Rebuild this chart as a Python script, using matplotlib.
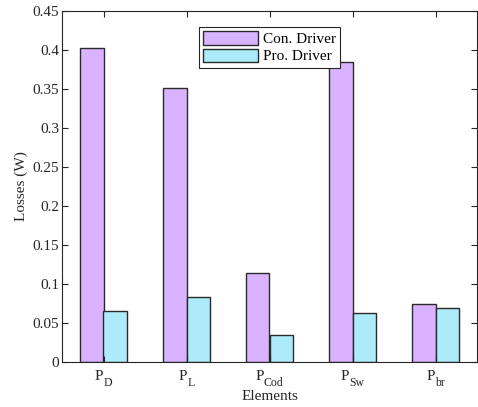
import matplotlib
matplotlib.use("Agg")
import matplotlib.pyplot as plt
import matplotlib.transforms as mtransforms
import numpy as np

cat_main = ["P", "P", "P", "P", "P"]
cat_sub = ["D", "L", "Cod", "Sw", "br"]
con_driver = [0.403, 0.351, 0.114, 0.384, 0.074]
pro_driver = [0.066, 0.083, 0.035, 0.063, 0.069]
yticks = [0, 0.05, 0.1, 0.15, 0.2, 0.25, 0.3, 0.35, 0.4, 0.45]
ytick_labels = ["0", "0.05", "0.1", "0.15", "0.2", "0.25", "0.3", "0.35", "0.4", "0.45"]

plt.rcParams["font.family"] = ["Liberation Serif", "DejaVu Serif"]

fig = plt.figure(figsize=(4.78, 4.07), dpi=100)
ax = fig.add_axes([62/478, 45/407, 415/478, 351/407])

x = np.arange(1, len(cat_sub) + 1)
w = 0.2857
edge = "#2a2a2a"
ax.bar(x - w/2, con_driver, w, color="#D9B3FF", edgecolor=edge, linewidth=1.0, label="Con. Driver")
ax.bar(x + w/2, pro_driver, w, color="#ADEBFA", edgecolor=edge, linewidth=1.0, label="Pro. Driver")

ax.set_xlim(0.5, 5.5)
ax.set_ylim(0, 0.45)
ax.set_xticks(x)
ax.set_xticklabels([""] * len(x))
ax.set_yticks(yticks)
ax.set_yticklabels(ytick_labels, fontsize=11)
ax.tick_params(direction="in", top=True, right=True, length=4, width=0.8, colors="#262626",
               labelcolor="#262626", pad=2)
for s in ax.spines.values():
    s.set_color("#262626")
    s.set_linewidth(0.8)
ax.set_xlabel("Elements", fontsize=11, color="#262626")
ax.xaxis.set_label_coords(0.5, -0.080)
ax.set_ylabel("Losses (W)", fontsize=11, color="#262626", labelpad=3)

# category labels with lowered subscripts
trans = mtransforms.blended_transform_factory(ax.transData, ax.transAxes)
fig.canvas.draw()
renderer = fig.canvas.get_renderer()
y_main = -(380 - 362) / 351
y_sub = -(386 - 362) / 351
for xi, m, s in zip(x, cat_main, cat_sub):
    t1 = ax.text(xi, y_main, m, transform=trans, ha="right", va="baseline", fontsize=11, color="#262626")
    t2 = ax.text(xi, y_sub, s, transform=trans, ha="left", va="baseline", fontsize=8.5, color="#262626")
    w1 = t1.get_window_extent(renderer).width
    w2 = t2.get_window_extent(renderer).width
    shift = -(w2 - w1) / 2.0 / fig.dpi * 72
    for t in (t1, t2):
        t.set_transform(mtransforms.offset_copy(trans, fig=fig, x=shift, y=0, units="points"))

leg = ax.legend(loc="upper center", bbox_to_anchor=(0.5, 0.955), fontsize=11, frameon=True,
                fancybox=False, edgecolor="#262626", framealpha=1, handlelength=3.6, handleheight=0.95,
                borderpad=0.3, labelspacing=0.15, handletextpad=0.3, borderaxespad=0)
leg.get_frame().set_linewidth(0.8)

fig.savefig("out.png", dpi=100)
